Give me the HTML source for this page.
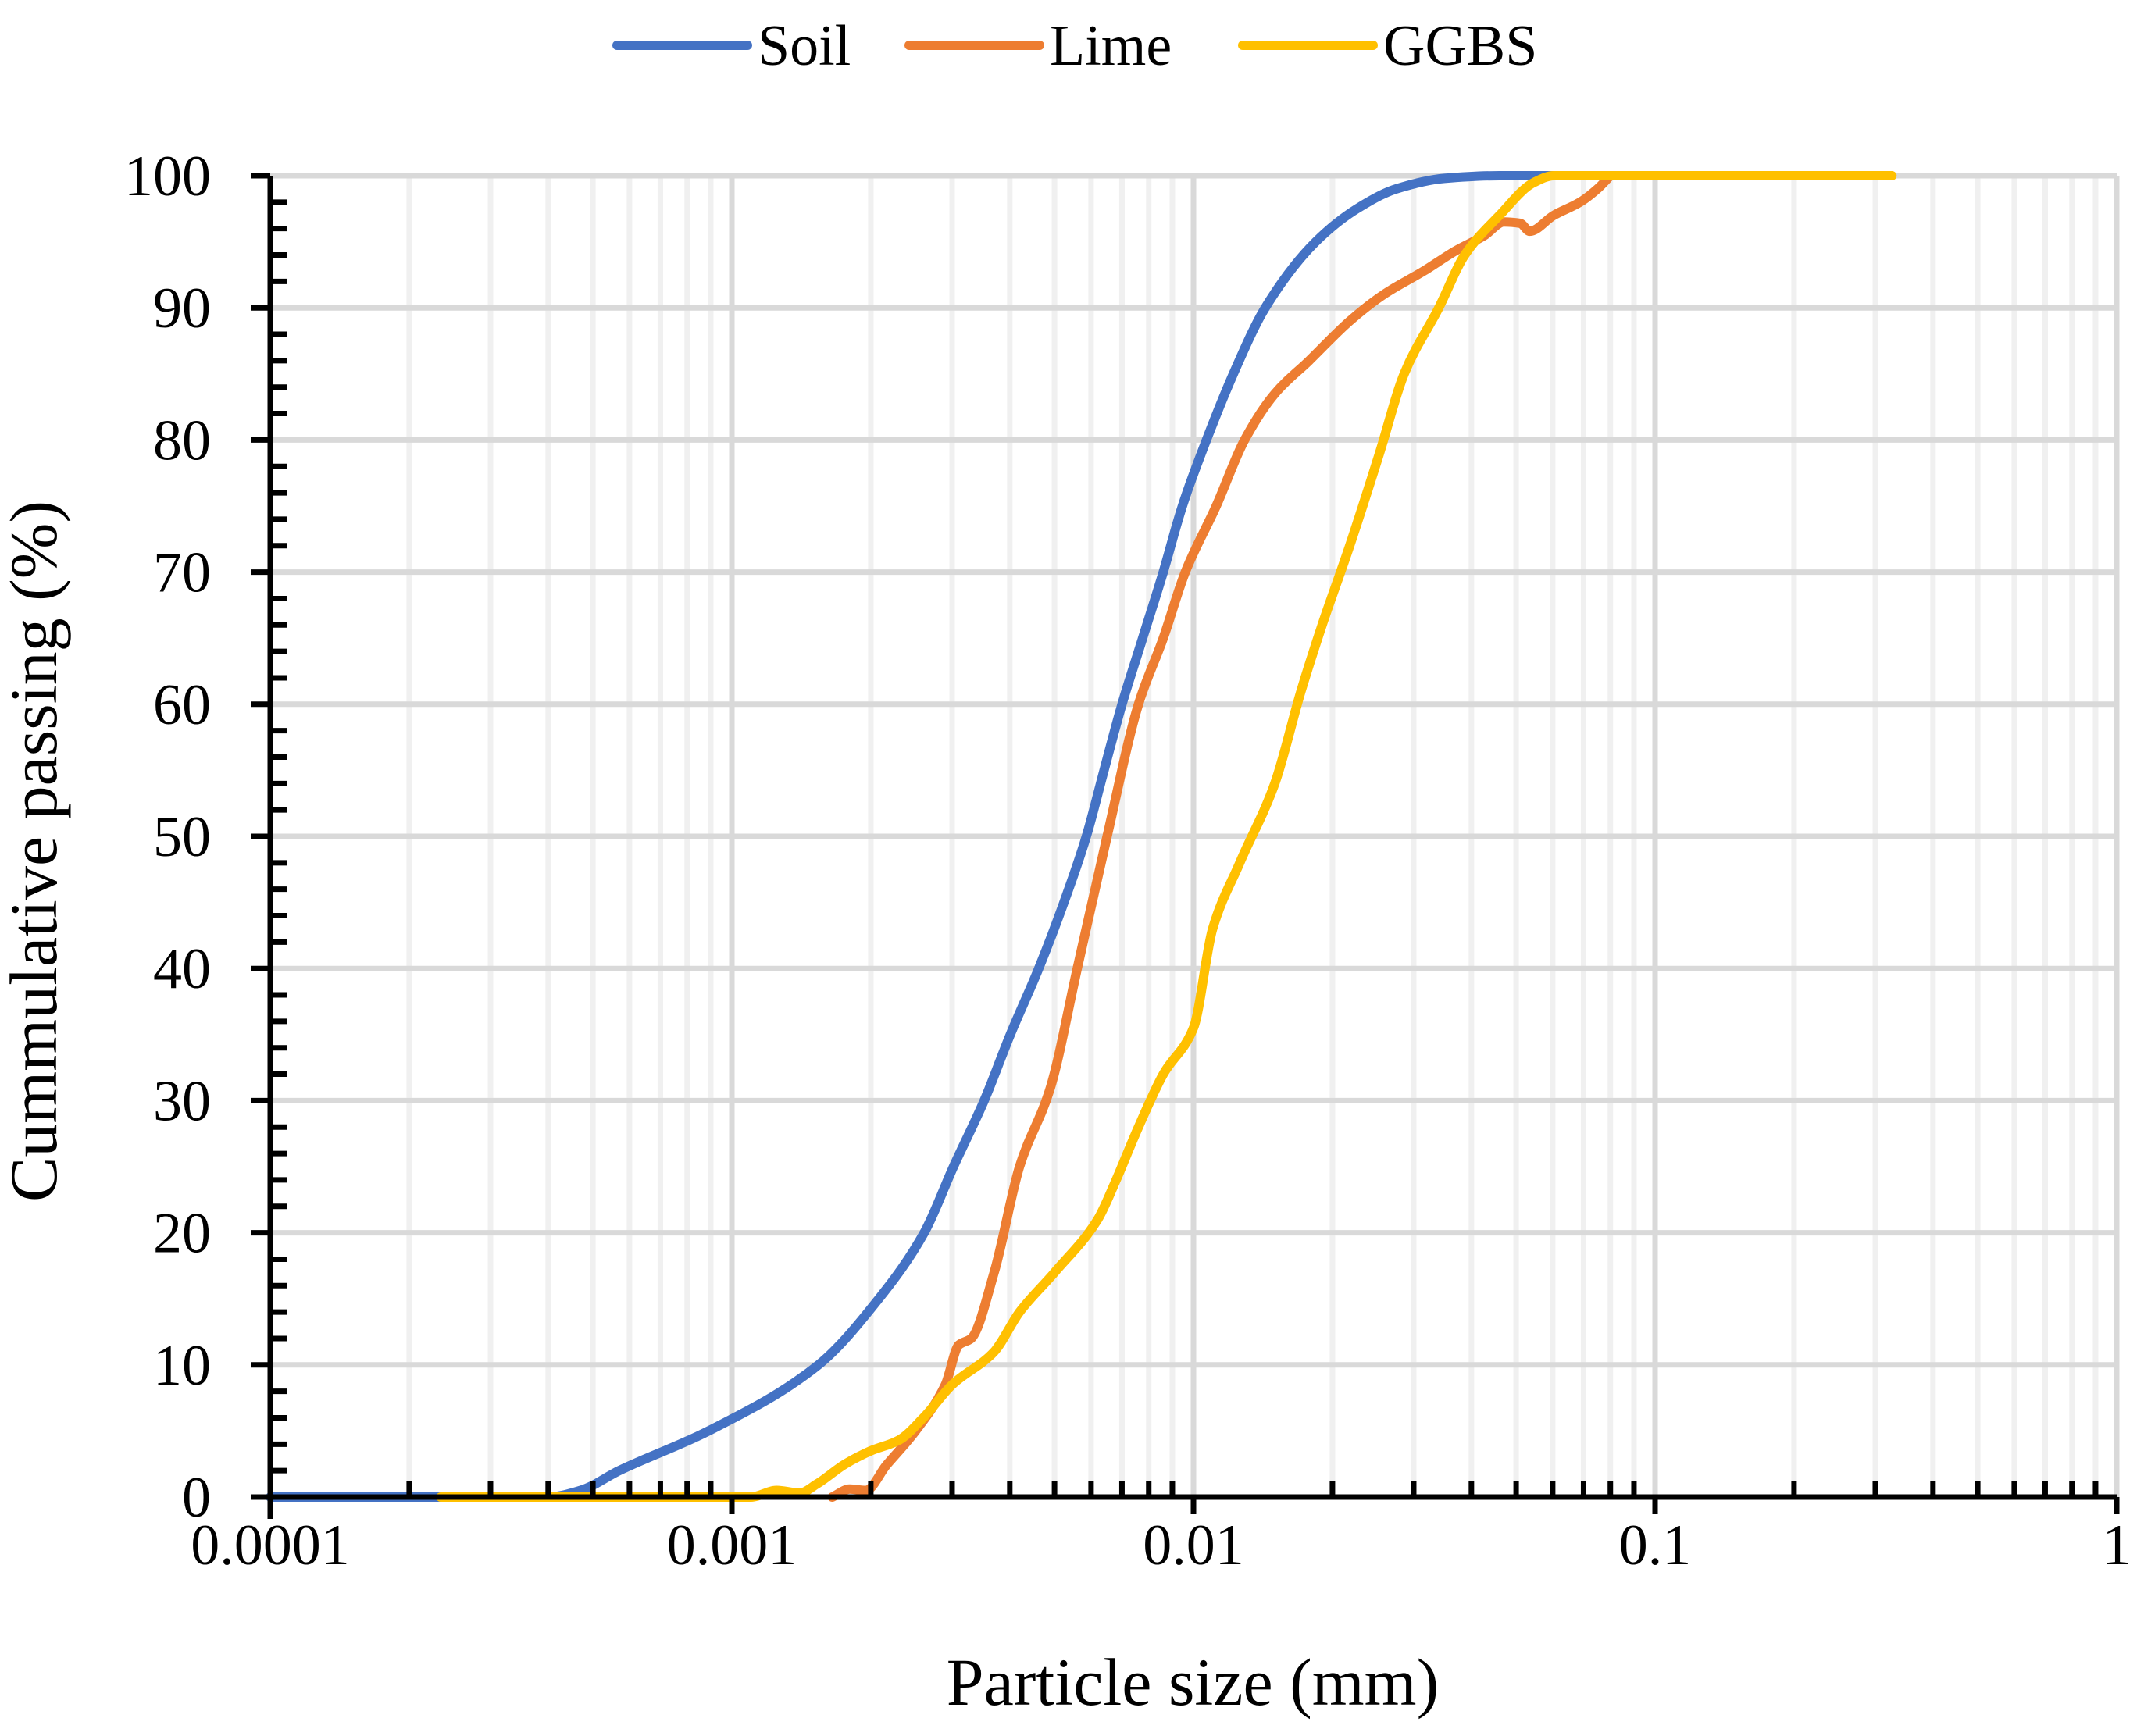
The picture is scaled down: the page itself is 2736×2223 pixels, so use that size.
<!DOCTYPE html>
<html><head><meta charset="utf-8"><style>
html,body{margin:0;padding:0;background:#fff;}
svg{display:block;font-family:"Liberation Serif",serif;}
</style></head><body>
<svg id="chart" width="2736" height="2223" viewBox="0 0 2736 2223" xmlns="http://www.w3.org/2000/svg">
<g id="grid"></g>
<g id="series"></g>
<g id="axes"></g>
<g id="legend"></g>
<text x="1527" y="2183" font-size="86" text-anchor="middle">Particle size (mm)</text>
<text transform="translate(72,1090) rotate(-90)" font-size="86" text-anchor="middle">Cummulative passing (%)</text>
</svg>
<script>
const seriesNames = ["Soil", "Lime", "GGBS"];
const seriesColors = ["#4472c4", "#ed7d31", "#ffc000"];
const soilX = [0.0001,0.0004,0.00047,0.00057,0.00089,0.00154,0.00208,0.00261,0.00302,0.00352,0.00401,0.00462,0.00524,0.00586,0.0064,0.007,0.00776,0.0086,0.00946,0.01067,0.0122,0.0143,0.0184,0.0226,0.0275,0.035,0.046,0.08];
const soilY = [0,0,0.5,2,5,10,15,20,25,30,35,40,45,50,55,60,65,70,75,80,85,90,95,97.5,99,99.8,100,100];
const limeX = [0.00165,0.0018,0.00195,0.00216,0.0025,0.0029,0.0031,0.0033,0.0037,0.0042,0.0049,0.0056,0.0065,0.0076,0.0086,0.0096,0.0112,0.0129,0.015,0.0178,0.0218,0.0258,0.0316,0.0369,0.0428,0.047,0.051,0.0535,0.0603,0.0688,0.075,0.08];
const limeY = [0,0.6,0.5,2.4,5,8.5,11.5,12,17,25,31,40,50,60,65,70,75,80,83.5,86,89,91,92.8,94.3,95.5,96.5,96.4,95.8,97,98,99,100];
const ggbsX = [0.000234,0.0011,0.00125,0.0014,0.00153,0.00176,0.002,0.0023,0.0026,0.003,0.0037,0.0042,0.005,0.0062,0.0068,0.0076,0.0086,0.01,0.011,0.0126,0.015,0.0171,0.019,0.0218,0.0253,0.0286,0.034,0.0387,0.046,0.0547,0.0603,0.326];
const ggbsY = [0,0,0.5,0.3,1,2.5,3.5,4.3,6,8.5,11,14,17,21,24,28,32,35.5,43,48,54,61,66,72,79,85,90,94,97,99.5,100,100];
const yTicks = [0,10,20,30,40,50,60,70,80,90,100];
const xTickLabels = ["0.0001","0.001","0.01","0.1","1"];
const xTickValues = [0.0001,0.001,0.01,0.1,1];

const X0=346, X1=2710, Y0=1917, Y1=225;
const xs = v => X0 + (Math.log10(v)+4)/4*(X1-X0);
const ys = v => Y0 - v/100*(Y0-Y1);
const NS="http://www.w3.org/2000/svg";
function mk(tag, attrs, parent){const e=document.createElementNS(NS,tag);for(const k in attrs)e.setAttribute(k,attrs[k]);parent.appendChild(e);return e;}
const grid=document.getElementById('grid'), axes=document.getElementById('axes'), ser=document.getElementById('series'), leg=document.getElementById('legend');

for(let d=-4; d<0; d++){
  for(let m=2;m<=9;m++){
    const x=xs(m*Math.pow(10,d));
    const g=mk('line',{x1:x,x2:x,y1:Y1,y2:Y0,stroke:'#f0f0f0','stroke-width':7},grid);
    
    
    const t=mk('line',{x1:x,x2:x,y1:Y0-20,y2:Y0,stroke:'#000','stroke-width':7},axes);
    
    
  }
}
xTickValues.forEach((v,i)=>{
  const x=xs(v);
  const g=mk('line',{x1:x,x2:x,y1:Y1,y2:Y0,stroke:'#d9d9d9','stroke-width':7},grid);
  
  
  const t=mk('line',{x1:x,x2:x,y1:Y0,y2:Y0+22,stroke:'#000','stroke-width':7},axes);
  
  
  const l=mk('text',{x:x,y:2003,'font-size':74,'text-anchor':'middle'},axes);
  l.textContent=xTickLabels[i];
  
  
});
yTicks.forEach(v=>{
  const y=ys(v);
  if(v>0){
    const g=mk('line',{x1:X0,x2:X1,y1:y,y2:y,stroke:'#d9d9d9','stroke-width':7},grid);
    
    
  }
  const t=mk('line',{x1:X0-25,x2:X0,y1:y,y2:y,stroke:'#000','stroke-width':7},axes);
  
  
  const l=mk('text',{x:270,y:y+25,'font-size':74,'text-anchor':'end'},axes);
  l.textContent=String(v);
  
  
});
for(let v=2; v<100; v+=2){
  if(v%10===0) continue;
  const y=ys(v);
  const t=mk('line',{x1:X0,x2:X0+22,y1:y,y2:y,stroke:'#000','stroke-width':7},axes);
  
  
}
const ax=mk('line',{x1:X0,x2:X0,y1:Y1,y2:Y0+28,stroke:'#000','stroke-width':7},axes);


const bx=mk('line',{x1:X0,x2:X1,y1:Y0,y2:Y0,stroke:'#000','stroke-width':7},axes);



// monotone cubic (Fritsch-Carlson) path in pixel space
function monoPath(P){
  const n=P.length, dx=[], m=[], t=new Array(n);
  for(let i=0;i<n-1;i++){dx[i]=P[i+1][0]-P[i][0]; m[i]=(P[i+1][1]-P[i][1])/dx[i];}
  t[0]=m[0]; t[n-1]=m[n-2];
  for(let i=1;i<n-1;i++){
    if(m[i-1]*m[i]<=0) t[i]=0;
    else { const w1=2*dx[i]+dx[i-1], w2=dx[i]+2*dx[i-1]; t[i]=(w1+w2)/(w1/m[i-1]+w2/m[i]); }
  }
  let d='M'+P[0][0].toFixed(1)+','+P[0][1].toFixed(1);
  for(let i=0;i<n-1;i++){
    const h=dx[i]/3;
    d+=' C'+(P[i][0]+h).toFixed(1)+','+(P[i][1]+t[i]*h).toFixed(1)+' '+(P[i+1][0]-h).toFixed(1)+','+(P[i+1][1]-t[i+1]*h).toFixed(1)+' '+P[i+1][0].toFixed(1)+','+P[i+1][1].toFixed(1);
  }
  return d;
}
const data=[[soilX,soilY],[limeX,limeY],[ggbsX,ggbsY]];
data.forEach((d,i)=>{
  const P=d[0].map((x,j)=>[xs(x),ys(d[1][j])]);
  const p=mk('path',{d:monoPath(P),fill:'none',stroke:seriesColors[i],'stroke-width':12,'stroke-linejoin':'round','stroke-linecap':'round'},ser);
  
  
});

const legX=[790,1164,1591];
seriesNames.forEach((n,i)=>{
  const l=mk('line',{x1:legX[i],x2:legX[i]+167,y1:58,y2:58,stroke:seriesColors[i],'stroke-width':12,'stroke-linecap':'round'},leg);
  
  
  const t=mk('text',{x:legX[i]+180,y:83,'font-size':74},leg);
  t.textContent=n;
  
  
});
</script>
</body></html>
